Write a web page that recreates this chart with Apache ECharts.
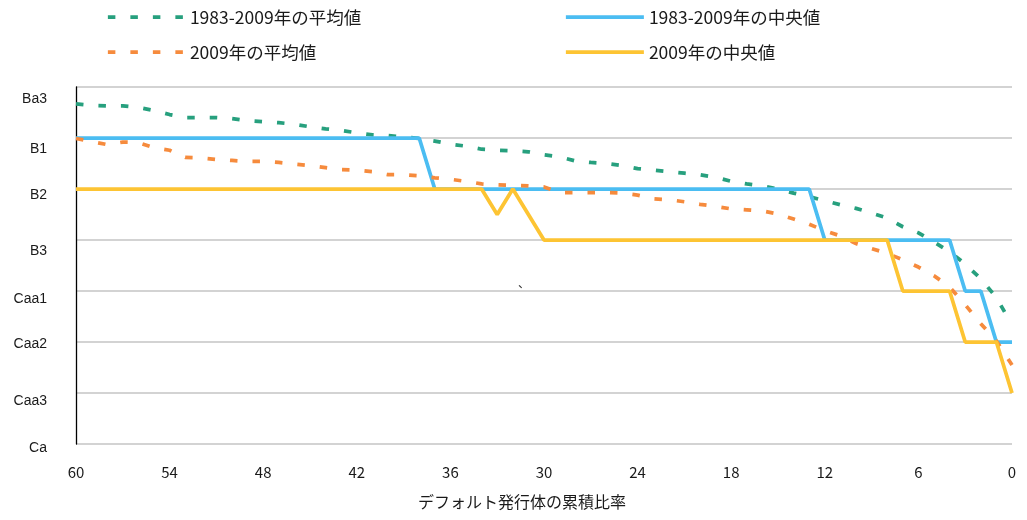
<!DOCTYPE html>
<html>
<head>
<meta charset="utf-8">
<script src="https://cdn.jsdelivr.net/npm/echarts@6/dist/echarts.min.js"></script>
<style>
  html, body { margin: 0; padding: 0; background: #ffffff; }
  #chart { width: 1027px; height: 520px; }
</style>
</head>
<body>
<div id="chart"></div>
<script>
// ---- data ----
const xValues = [60,59,58,57,56,55,54,53,52,51,50,49,48,47,46,45,44,43,42,41,40,39,38,37,36,35,34,33,32,31,30,29,28,27,26,25,24,23,22,21,20,19,18,17,16,15,14,13,12,11,10,9,8,7,6,5,4,3,2,1,0];
// rating scale: Ca=0 ... Ba3=7
const ratingLabels = ['Ca','Caa3','Caa2','Caa1','B3','B2','B1','Ba3'];
const xTickLabels = [60,54,48,42,36,30,24,18,12,6,0];
const seriesNames = ['1983-2009年の平均値','1983-2009年の中央値','2009年の平均値','2009年の中央値'];

const mean8309 = [6.67,6.64,6.63,6.63,6.60,6.54,6.46,6.40,6.40,6.40,6.38,6.34,6.32,6.30,6.27,6.22,6.18,6.15,6.10,6.06,6.05,6.02,5.99,5.94,5.88,5.84,5.78,5.76,5.75,5.73,5.67,5.63,5.55,5.52,5.50,5.46,5.40,5.37,5.34,5.31,5.28,5.23,5.15,5.10,5.06,5.00,4.92,4.85,4.77,4.69,4.62,4.53,4.43,4.26,4.14,3.96,3.77,3.53,3.24,2.87,2.34];
const median8309 = [6,6,6,6,6,6,6,6,6,6,6,6,6,6,6,6,6,6,6,6,6,6,6,5,5,5,5,5,5,5,5,5,5,5,5,5,5,5,5,5,5,5,5,5,5,5,5,5,4,4,4,4,4,4,4,4,4,3,3,2,2];
const mean2009 = [5.99,5.93,5.87,5.92,5.91,5.81,5.76,5.62,5.61,5.58,5.56,5.54,5.54,5.52,5.49,5.46,5.42,5.38,5.37,5.34,5.28,5.28,5.26,5.22,5.19,5.15,5.10,5.08,5.07,5.06,5.04,4.93,4.93,4.93,4.93,4.92,4.88,4.81,4.79,4.75,4.70,4.66,4.61,4.59,4.57,4.51,4.41,4.31,4.18,4.08,3.93,3.83,3.74,3.61,3.47,3.30,3.08,2.73,2.36,2.02,1.55];
const median2009 = [5,5,5,5,5,5,5,5,5,5,5,5,5,5,5,5,5,5,5,5,5,5,5,5,5,5,5,4.5,5,4.5,4,4,4,4,4,4,4,4,4,4,4,4,4,4,4,4,4,4,4,4,4,4,4,3,3,3,3,2,2,2,1];

// ---- helpers ----
function pairs(vals) { return xValues.map((x, i) => [x, vals[i]]); }
const FONT_JP = '"Noto Sans CJK JP", "Noto Sans", sans-serif';
const FONT_LAT = '"Liberation Sans", Arial, sans-serif';
// per-label vertical nudge (px) to match the reference placement
const labelShift = [4, 8, 2, 8, 11, 6, 11, 12];
const rich = {};
labelShift.forEach((d, i) => {
  rich['o' + i] = { fontFamily: FONT_LAT, fontSize: 14, color: '#1a1a1a', padding: [2 * d, 0, 0, 0] };
});

const colors = { green: '#27a07e', blue: '#4bbdf2', orange: '#f68b3d', yellow: '#fdc433' };
const LW = 3.75;
const DASH = [7.5, 15];

const legendCommon = {
  orient: 'vertical', top: 8, padding: 0,
  itemHeight: 18, itemGap: 17,
  itemStyle: { opacity: 0 },
  lineStyle: { width: LW },
  textStyle: { fontFamily: FONT_JP, fontSize: 17.5, color: '#1a1a1a', lineHeight: 18 }
};

const chart = echarts.init(document.getElementById('chart'), null, { renderer: 'canvas' });
chart.setOption({
  animation: false,
  backgroundColor: '#ffffff',
  grid: { left: 76, right: 15, top: 87, bottom: 76, containLabel: false, outerBoundsMode: 'none' },
  legend: [
    Object.assign({}, legendCommon, { data: [seriesNames[0], seriesNames[2]], left: 106, itemWidth: 77 }),
    Object.assign({}, legendCommon, { data: [seriesNames[1], seriesNames[3]], left: 564, itemWidth: 78 })
  ],
  xAxis: {
    type: 'value', inverse: true, min: 0, max: 60, interval: 6,
    name: 'デフォルト発行体の累積比率',
    nameLocation: 'middle', nameGap: 50,
    nameTextStyle: { fontFamily: FONT_JP, fontSize: 16, color: '#1a1a1a', padding: [0, 44, 0, 0] },
    axisLine: { show: false },
    axisTick: { show: false },
    splitLine: { show: false },
    axisLabel: {
      fontFamily: FONT_JP, fontSize: 15, color: '#1a1a1a', margin: 21,
      customValues: xTickLabels,
      formatter: v => String(v)
    }
  },
  yAxis: {
    type: 'value', min: 0, max: 7, interval: 1,
    axisLine: { show: true, onZero: false, lineStyle: { color: '#000000', width: 1.3 } },
    axisTick: { show: false },
    splitLine: { show: true, lineStyle: { color: '#c4c4c4', width: 1.5 } },
    axisLabel: {
      margin: 29,
      formatter: v => '{o' + v + '|' + ratingLabels[v] + '}',
      rich: rich
    }
  },
  series: [
    {
      name: seriesNames[0], type: 'line', data: pairs(mean8309),
      symbol: 'none', color: colors.green,
      lineStyle: { color: colors.green, width: LW, type: DASH, cap: 'butt' }
    },
    {
      name: seriesNames[1], type: 'line', data: pairs(median8309),
      symbol: 'none', color: colors.blue,
      lineStyle: { color: colors.blue, width: LW }
    },
    {
      name: seriesNames[2], type: 'line', data: pairs(mean2009),
      symbol: 'none', color: colors.orange,
      lineStyle: { color: colors.orange, width: LW, type: DASH, cap: 'butt' }
    },
    {
      name: seriesNames[3], type: 'line', data: pairs(median2009),
      symbol: 'none', color: colors.yellow,
      lineStyle: { color: colors.yellow, width: LW }
    }
  ],
  graphic: [
    { type: 'text', left: 518, top: 277, style: { text: '、', fontSize: 12, fontFamily: FONT_JP, fill: '#333' } }
  ]
});
</script>
</body>
</html>
